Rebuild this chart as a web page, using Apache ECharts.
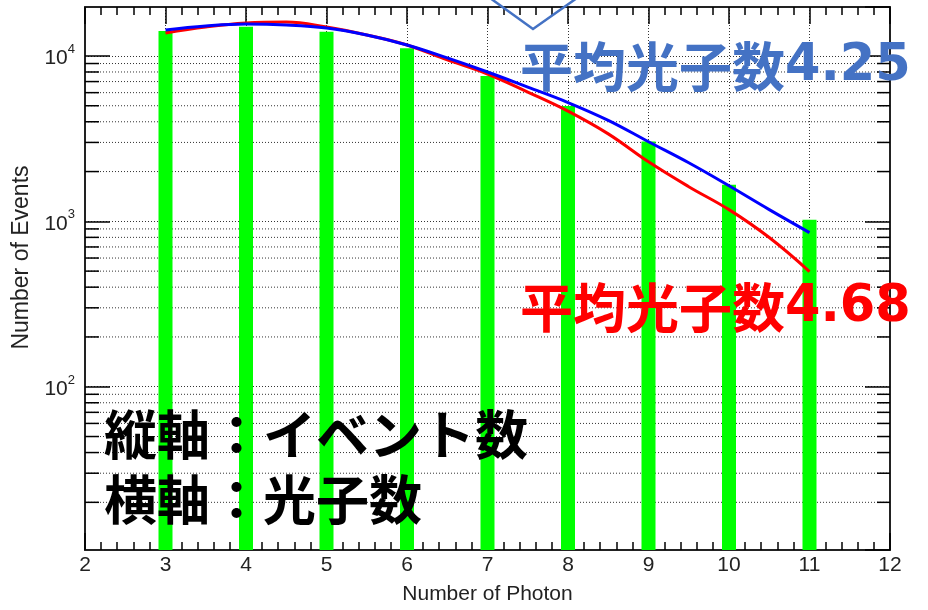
<!DOCTYPE html>
<html>
<head>
<meta charset="utf-8">
<script src="https://cdn.jsdelivr.net/npm/echarts@6/dist/echarts.min.js"></script>
<style>
  html, body { margin: 0; padding: 0; background: #fff; }
  #main { width: 928px; height: 610px; }
</style>
</head>
<body>
<div id="main"></div>
<script>
// 光子数ごとのイベント数（緑のヒストグラム）
var photons = [3, 4, 5, 6, 7, 8, 9, 10, 11];
var events = [14160, 15030, 14020, 11130, 7570, 4990, 3040, 1664, 1024];

// フィット曲線（青: 平均4.25, 赤: 平均4.68）
var curveX = [3, 3.5, 4, 4.5, 5, 5.5, 6, 6.5, 7, 7.5, 8, 8.5, 9, 9.5, 10, 10.5, 11];
var blueFit = [14350, 15170, 15600, 15400, 14760, 13390, 11650, 9730, 8000, 6480, 5230, 4080, 3030, 2260, 1640, 1177, 855];
var redFit = [13770, 14960, 15820, 16040, 14960, 13390, 11650, 9460, 7780, 6050, 4640, 3380, 2290, 1620, 1177, 798, 497];

// 軸の範囲と対数目盛の補助線
var X_MIN = 2, X_MAX = 12;
var Y_MIN = 10.3, Y_MAX = 19770;
var minorY = [20, 30, 40, 50, 60, 70, 80, 90,
              200, 300, 400, 500, 600, 700, 800, 900,
              2000, 3000, 4000, 5000, 6000, 7000, 8000, 9000];

var axisColor = '#222';
var gridDash = [1, 2];
var latin = 'Liberation Sans';
var jp = 'Noto Sans CJK JP';

var chart = echarts.init(document.getElementById('main'));

function xAxisOpt(pos) {
  var bottom = pos === 'bottom';
  return {
    type: 'value',
    position: pos,
    min: X_MIN,
    max: X_MAX,
    interval: 1,
    axisLine: { show: true, onZero: false, lineStyle: { color: axisColor, width: 2 } },
    axisTick: { show: true, inside: true, length: 17, lineStyle: { color: '#000', width: 1.5 } },
    minorTick: { show: true, splitNumber: 5, length: 8, lineStyle: { color: '#000', width: 1.5 } },
    splitLine: { show: bottom, lineStyle: { color: '#333', width: 1, type: gridDash } },
    axisLabel: { show: bottom, fontFamily: latin, fontSize: 21, color: '#222', margin: 5 },
    name: bottom ? 'Number of Photon' : '',
    nameLocation: 'middle',
    nameGap: 34,
    nameTextStyle: { fontFamily: latin, fontSize: 21, color: '#222' }
  };
}

function yAxisOpt(pos) {
  var left = pos === 'left';
  return {
    type: 'log',
    logBase: 10,
    position: pos,
    min: Y_MIN,
    max: Y_MAX,
    axisLine: { show: true, lineStyle: { color: axisColor, width: 2 } },
    axisTick: { show: true, inside: true, length: 25, lineStyle: { color: '#000', width: 1.5 } },
    splitLine: { show: left, lineStyle: { color: '#333', width: 1, type: gridDash } },
    axisLabel: {
      show: left,
      showMinLabel: false,
      showMaxLabel: false,
      margin: 10,
      formatter: function (v) {
        var e = Math.round(Math.log10(v));
        if (Math.abs(Math.log10(v) - e) > 1e-6) return '';
        return '{b|10}{s|' + e + '}';
      },
      rich: {
        b: { fontFamily: latin, fontSize: 21, color: '#222', lineHeight: 26, verticalAlign: 'bottom' },
        s: { fontFamily: latin, fontSize: 13, color: '#222', lineHeight: 26, verticalAlign: 'top' }
      }
    },
    name: left ? 'Number of Events' : '',
    nameLocation: 'middle',
    nameGap: 52,
    nameTextStyle: { fontFamily: latin, fontSize: 23, color: '#222', padding: [0, 0, 0, 42] }
  };
}

var option = {
  backgroundColor: '#fff',
  animation: false,
  grid: { left: 85, right: 38, top: 7, bottom: 59, containLabel: false },
  xAxis: [xAxisOpt('bottom'), xAxisOpt('top')],
  yAxis: [yAxisOpt('left'), yAxisOpt('right')],
  series: [
    {
      // 対数目盛の補助目盛と点線グリッド
      type: 'custom',
      silent: true,
      z: 1,
      data: minorY.map(function (v) { return [X_MIN, v]; }),
      renderItem: function (params, api) {
        var v = api.value(1);
        var p0 = api.coord([X_MIN, v]);
        var p1 = api.coord([X_MAX, v]);
        var tick = { stroke: '#000', lineWidth: 1.5 };
        return {
          type: 'group',
          children: [
            { type: 'line', shape: { x1: p0[0], y1: p0[1], x2: p1[0], y2: p1[1] },
              style: { stroke: '#333', lineWidth: 1, lineDash: gridDash } },
            { type: 'line', shape: { x1: p0[0], y1: p0[1], x2: p0[0] + 14, y2: p0[1] }, style: tick },
            { type: 'line', shape: { x1: p1[0] - 13, y1: p1[1], x2: p1[0], y2: p1[1] }, style: tick }
          ]
        };
      }
    },
    {
      type: 'bar',
      z: 2,
      clip: true,
      barWidth: 14,
      itemStyle: { color: '#00ff00' },
      data: photons.map(function (p, i) { return [p, events[i]]; })
    },
    {
      type: 'line',
      z: 3,
      smooth: 0.4,
      showSymbol: false,
      lineStyle: { color: '#ff0000', width: 3 },
      data: curveX.map(function (x, i) { return [x, redFit[i]]; })
    },
    {
      type: 'line',
      z: 4,
      smooth: 0.4,
      showSymbol: false,
      lineStyle: { color: '#0000ff', width: 3 },
      data: curveX.map(function (x, i) { return [x, blueFit[i]]; })
    }
  ],
  graphic: [
    {
      type: 'polyline',
      z: 100,
      shape: { points: [[490, -2], [533, 29], [577, -2]] },
      style: { stroke: '#4472C4', lineWidth: 2.5, fill: null }
    },
    {
      type: 'text', z: 100, x: 520, y: 67,
      style: {
        text: '{j|平均光子数}{n|4.25}', verticalAlign: 'middle',
        rich: {
          j: { fontFamily: jp, fontWeight: 'bold', fontSize: 53, fill: '#4472C4' },
          n: { fontFamily: 'DejaVu Sans', fontWeight: 'bold', fontSize: 51, fill: '#4472C4' }
        }
      }
    },
    {
      type: 'text', z: 100, x: 520, y: 308,
      style: {
        text: '{j|平均光子数}{n|4.68}', verticalAlign: 'middle',
        rich: {
          j: { fontFamily: jp, fontWeight: 'bold', fontSize: 53, fill: '#ff0000' },
          n: { fontFamily: 'DejaVu Sans', fontWeight: 'bold', fontSize: 51, fill: '#ff0000' }
        }
      }
    },
    {
      type: 'text', z: 100, x: 104, y: 435,
      style: { text: '縦軸：イベント数', verticalAlign: 'middle', fontFamily: jp, fontWeight: 'bold', fontSize: 53, fill: '#000' }
    },
    {
      type: 'text', z: 100, x: 104, y: 500,
      style: { text: '横軸：光子数', verticalAlign: 'middle', fontFamily: jp, fontWeight: 'bold', fontSize: 53, fill: '#000' }
    }
  ]
};

chart.setOption(option);
</script>
</body>
</html>
